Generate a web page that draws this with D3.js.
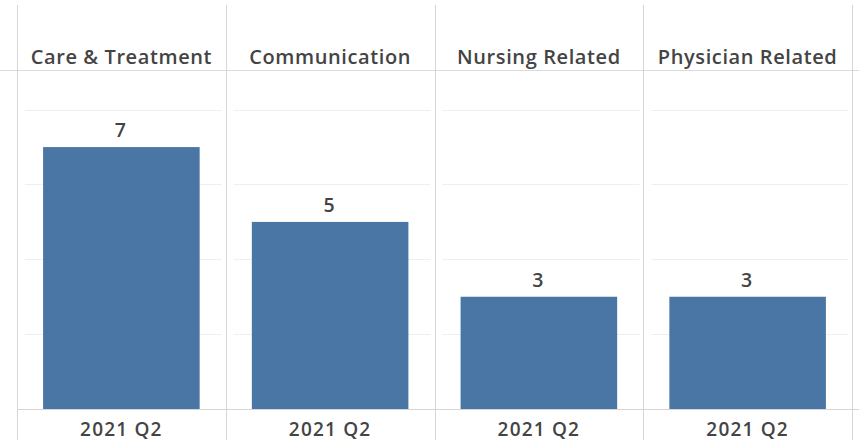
<!DOCTYPE html>
<html><head><meta charset="utf-8">
<script src="https://cdn.jsdelivr.net/npm/d3@7"></script>
<style>
html,body{margin:0;padding:0;background:#fff;}
svg{display:block;}
text{font-family:"Open Sans",sans-serif;fill:#444444;font-weight:600;}
</style></head>
<body><svg id="chart" width="859" height="447"></svg>
<script>
const categories = ["Care & Treatment", "Communication", "Nursing Related", "Physician Related"];
const values = [7, 5, 3, 3];
const periodLabels = ["2021 Q2", "2021 Q2", "2021 Q2", "2021 Q2"];
const gridTicks = [2, 4, 6, 8];

(function () {
const W = 859, H = 447;
const padL = 17, padR = 852, padT = 5, headerBottom = 70, baseline = 409, padB = 440;
const svg = d3.select("#chart");

const x = d3.scaleBand().domain(categories).range([padL, padR]).paddingInner(0).paddingOuter(0);
const inner = d3.scaleBand().domain([0]).range([0, x.bandwidth()]).paddingInner(0.25).paddingOuter(0.125);
const y = d3.scaleLinear().domain([0, 9.06]).range([baseline, headerBottom]);

// grid lines
categories.forEach(c => {
  svg.append("g").selectAll("line").data(gridTicks).join("line")
    .attr("x1", x(c) + 8).attr("x2", x(c) + x.bandwidth() - 4)
    .attr("y1", d => Math.round(y(d)) + 0.5).attr("y2", d => Math.round(y(d)) + 0.5)
    .attr("stroke", "#efefef").attr("stroke-width", 1);
});

// header line and baseline
svg.append("line").attr("x1", 0).attr("x2", W).attr("y1", headerBottom + 0.5).attr("y2", headerBottom + 0.5)
  .attr("stroke", "#dcdcdc");
svg.append("line").attr("x1", padL).attr("x2", W).attr("y1", baseline + 0.5).attr("y2", baseline + 0.5)
  .attr("stroke", "#d6d6d6");

// vertical separators
const seps = categories.map(c => x(c)).concat([padR]);
svg.append("g").selectAll("line").data(seps).join("line")
  .attr("x1", d => Math.round(d) + 0.5).attr("x2", d => Math.round(d) + 0.5)
  .attr("y1", padT).attr("y2", padB)
  .attr("stroke", "#d6d6d6");

// bars
svg.append("g").selectAll("rect").data(categories).join("rect")
  .attr("x", c => x(c) + inner(0))
  .attr("width", inner.bandwidth())
  .attr("y", (c, i) => y(values[i]))
  .attr("height", (c, i) => baseline - y(values[i]))
  .attr("fill", "#4a76a5");

// value labels
svg.append("g").selectAll("text").data(categories).join("text")
  .attr("x", c => x(c) + x.bandwidth() / 2 - 1)
  .attr("y", (c, i) => y(values[i]) - 10)
  .attr("text-anchor", "middle")
  .style("font-size", "19.5px")
  .text((c, i) => values[i]);

// headers
svg.append("g").selectAll("text").data(categories).join("text")
  .attr("x", c => x(c) + x.bandwidth() / 2)
  .attr("y", 63.5)
  .attr("text-anchor", "middle")
  .style("font-size", "20px")
  .style("letter-spacing", "0.6px")
  .text(c => c);

// period labels
svg.append("g").selectAll("text").data(categories).join("text")
  .attr("x", c => x(c) + x.bandwidth() / 2)
  .attr("y", 436)
  .attr("text-anchor", "middle")
  .style("font-size", "19px")
  .style("letter-spacing", "1.2px")
  .text((c, i) => periodLabels[i]);
})();
</script></body></html>
